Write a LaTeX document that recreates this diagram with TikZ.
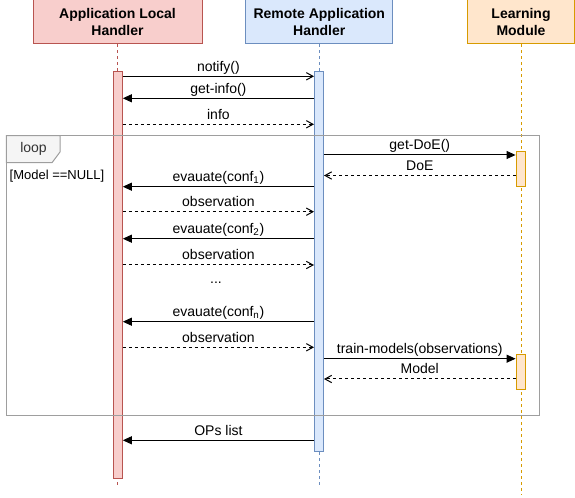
\documentclass[tikz,border=0pt]{standalone}
\usepackage{fontspec}
\setmainfont{Liberation Sans}
\usetikzlibrary{arrows.meta}

\definecolor{alhfill}{HTML}{F8CECC}
\definecolor{alhdraw}{HTML}{B85450}
\definecolor{rahfill}{HTML}{DAE8FC}
\definecolor{rahdraw}{HTML}{6C8EBF}
\definecolor{lmfill}{HTML}{FFE6CC}
\definecolor{lmdraw}{HTML}{D79B00}
\definecolor{framegray}{HTML}{9E9E9E}
\definecolor{tabfill}{HTML}{F5F5F5}
\definecolor{tabtext}{HTML}{333333}

\tikzset{
  head/.style={draw, line width=0.75pt, align=center, inner sep=0pt, minimum height=33pt,
    font=\fontsize{10.5}{12.75}\selectfont\bfseries},
  bar/.style={draw, line width=0.75pt, inner sep=0pt, minimum width=6.75pt, anchor=north},
  lifeline/.style={line width=0.75pt, dash pattern=on 2.25pt off 2.25pt},
  frame/.style={draw=framegray, line width=0.75pt},
  call/.style={line width=0.75pt, -{Triangle[length=6.75pt,width=6pt]}},
  async/.style={line width=0.75pt, -{Straight Barb[length=5pt,width=5.5pt]}},
  reply/.style={async, dash pattern=on 2.25pt off 2.25pt},
  msg/.style={above, inner sep=1.5pt, text height=7.5pt, text depth=2pt,
    font=\fontsize{10.5}{12}\selectfont},
}

\begin{document}
\begin{tikzpicture}[x=0.75pt, y=-0.75pt]
\useasboundingbox (0,0) rectangle (575,498);

% participants
\node[head, fill=alhfill, draw=alhdraw, minimum width=126.75pt] (alh) at (117.5,22) {Application Local\\Handler};
\node[head, fill=rahfill, draw=rahdraw, minimum width=110.25pt] (rah) at (319.3,22) {Remote Application\\Handler};
\node[head, fill=lmfill, draw=lmdraw, minimum width=80pt] (lm) at (521,22) {Learning\\Module};

% lifelines
\draw[lifeline, alhdraw] (alh.south) -- (alh.south |- 0,487);
\draw[lifeline, rahdraw] (rah.south) -- (rah.south |- 0,487);
\draw[lifeline, lmdraw] (lm.south) -- (lm.south |- 0,495);

% activations
\node[bar, fill=alhfill, draw=alhdraw, minimum height=305.25pt] (alhbar) at (117.8,71) {};
\node[bar, fill=rahfill, draw=rahdraw, minimum height=285.2pt] (rahbar) at (319,71) {};
\node[bar, fill=lmfill, draw=lmdraw, minimum width=7.1pt, minimum height=26.6pt] (lmbarA) at (520.8,150.7) {};
\node[bar, fill=lmfill, draw=lmdraw, minimum width=7.1pt, minimum height=26.6pt] (lmbarB) at (520.8,354) {};

% loop frame
\draw[frame] (6.3,135.7) rectangle (539,416);
\draw[frame, fill=tabfill] (6.3,135.7) -- (60,135.7) -- (60,152) -- (52,162.7) -- (6.3,162.7) -- cycle;
\node[text=tabtext, font=\fontsize{10.5}{12}\selectfont] (looplabel) at (33.5,149) {loop};
\node[font=\fontsize{9.75}{12}\selectfont] (guard) at (57,176) {[Model ==NULL]};

% messages
\path (alhbar.east |- 0,76.3) edge[async] node[msg] {notify()} (rahbar.west |- 0,76.3);
\path (rahbar.west |- 0,98.3) edge[call] node[msg] {get-info()} (alhbar.east |- 0,98.3);
\path (alhbar.east |- 0,124.3) edge[reply] node[msg] {info} (rahbar.west |- 0,124.3);
\path (rahbar.east |- 0,155) edge[call] node[msg] {get-DoE()} (lmbarA.west |- 0,155);
\path (lmbarA.west |- 0,175.5) edge[reply] node[msg] {DoE} (rahbar.east |- 0,175.5);
\path (rahbar.west |- 0,186.7) edge[call] node[msg] {evauate(conf\textsubscript{1})} (alhbar.east |- 0,186.7);
\path (alhbar.east |- 0,211.7) edge[reply] node[msg] {observation} (rahbar.west |- 0,211.7);
\path (rahbar.west |- 0,238.7) edge[call] node[msg] {evauate(conf\textsubscript{2})} (alhbar.east |- 0,238.7);
\path (alhbar.east |- 0,265) edge[reply] node[msg] {observation} (rahbar.west |- 0,265);
\node[font=\fontsize{10.5}{12}\selectfont] (dots) at (216,283) {...};
\path (rahbar.west |- 0,321.7) edge[call] node[msg] {evauate(conf\textsubscript{n})} (alhbar.east |- 0,321.7);
\path (alhbar.east |- 0,347.3) edge[reply] node[msg] {observation} (rahbar.west |- 0,347.3);
\path (rahbar.east |- 0,358.7) edge[call] node[msg] {train-models(observations)} (lmbarB.west |- 0,358.7);
\path (lmbarB.west |- 0,379) edge[reply] node[msg] {Model} (rahbar.east |- 0,379);
\path (rahbar.west |- 0,440.3) edge[call] node[msg] {OPs list} (alhbar.east |- 0,440.3);
\end{tikzpicture}
\end{document}
